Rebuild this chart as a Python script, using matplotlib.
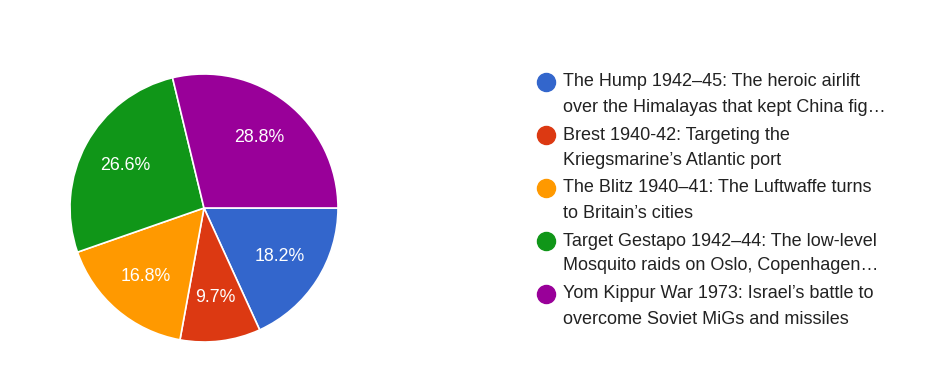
import matplotlib.pyplot as plt
from matplotlib.lines import Line2D

plt.rcParams['font.family'] = ['Liberation Sans', 'DejaVu Sans']

shares = [18.2, 9.7, 16.8, 26.6, 28.8]
colors = ["#3366cc", "#dc3912", "#ff9900", "#109618", "#990099"]
legend_lines = [
    ("The Hump 1942\u201345: The heroic airlift", "over the Himalayas that kept China fig\u2026"),
    ("Brest 1940-42: Targeting the", "Kriegsmarine\u2019s Atlantic port"),
    ("The Blitz 1940\u201341: The Luftwaffe turns", "to Britain\u2019s cities"),
    ("Target Gestapo 1942\u201344: The low-level", "Mosquito raids on Oslo, Copenhagen\u2026"),
    ("Yom Kippur War 1973: Israel\u2019s battle to", "overcome Soviet MiGs and missiles"),
]

W, H = 926, 384
fig = plt.figure(figsize=(W / 100, H / 100), dpi=100)

# pie: centre (204, 208) px, radius 134 px
cx, cy, r = 204, 208, 134
ax = fig.add_axes([(cx - r) / W, (H - cy - r) / H, 2 * r / W, 2 * r / H])
ax.pie(shares, colors=colors, startangle=0, counterclock=False,
       autopct="%.1f%%", pctdistance=0.67, radius=1,
       wedgeprops=dict(edgecolor="white", linewidth=1.2),
       textprops=dict(color="white", fontsize=12.8))
ax.set_xlim(-1, 1)
ax.set_ylim(-1, 1)
ax.set_aspect("equal")
ax.axis("off")

# legend
y0, step, gap = 82, 53, 25
for i, (l1, l2) in enumerate(legend_lines):
    y = y0 + i * step
    fig.add_artist(Line2D([546 / W], [1 - y / H], marker="o", markersize=13,
                          color=colors[i], linestyle="none",
                          transform=fig.transFigure))
    fig.text(563 / W, 1 - y / H, l1, fontsize=13, color="#222222", va="center")
    fig.text(563 / W, 1 - (y + gap) / H, l2, fontsize=13, color="#222222", va="center")

fig.savefig("out.png", dpi=100)
